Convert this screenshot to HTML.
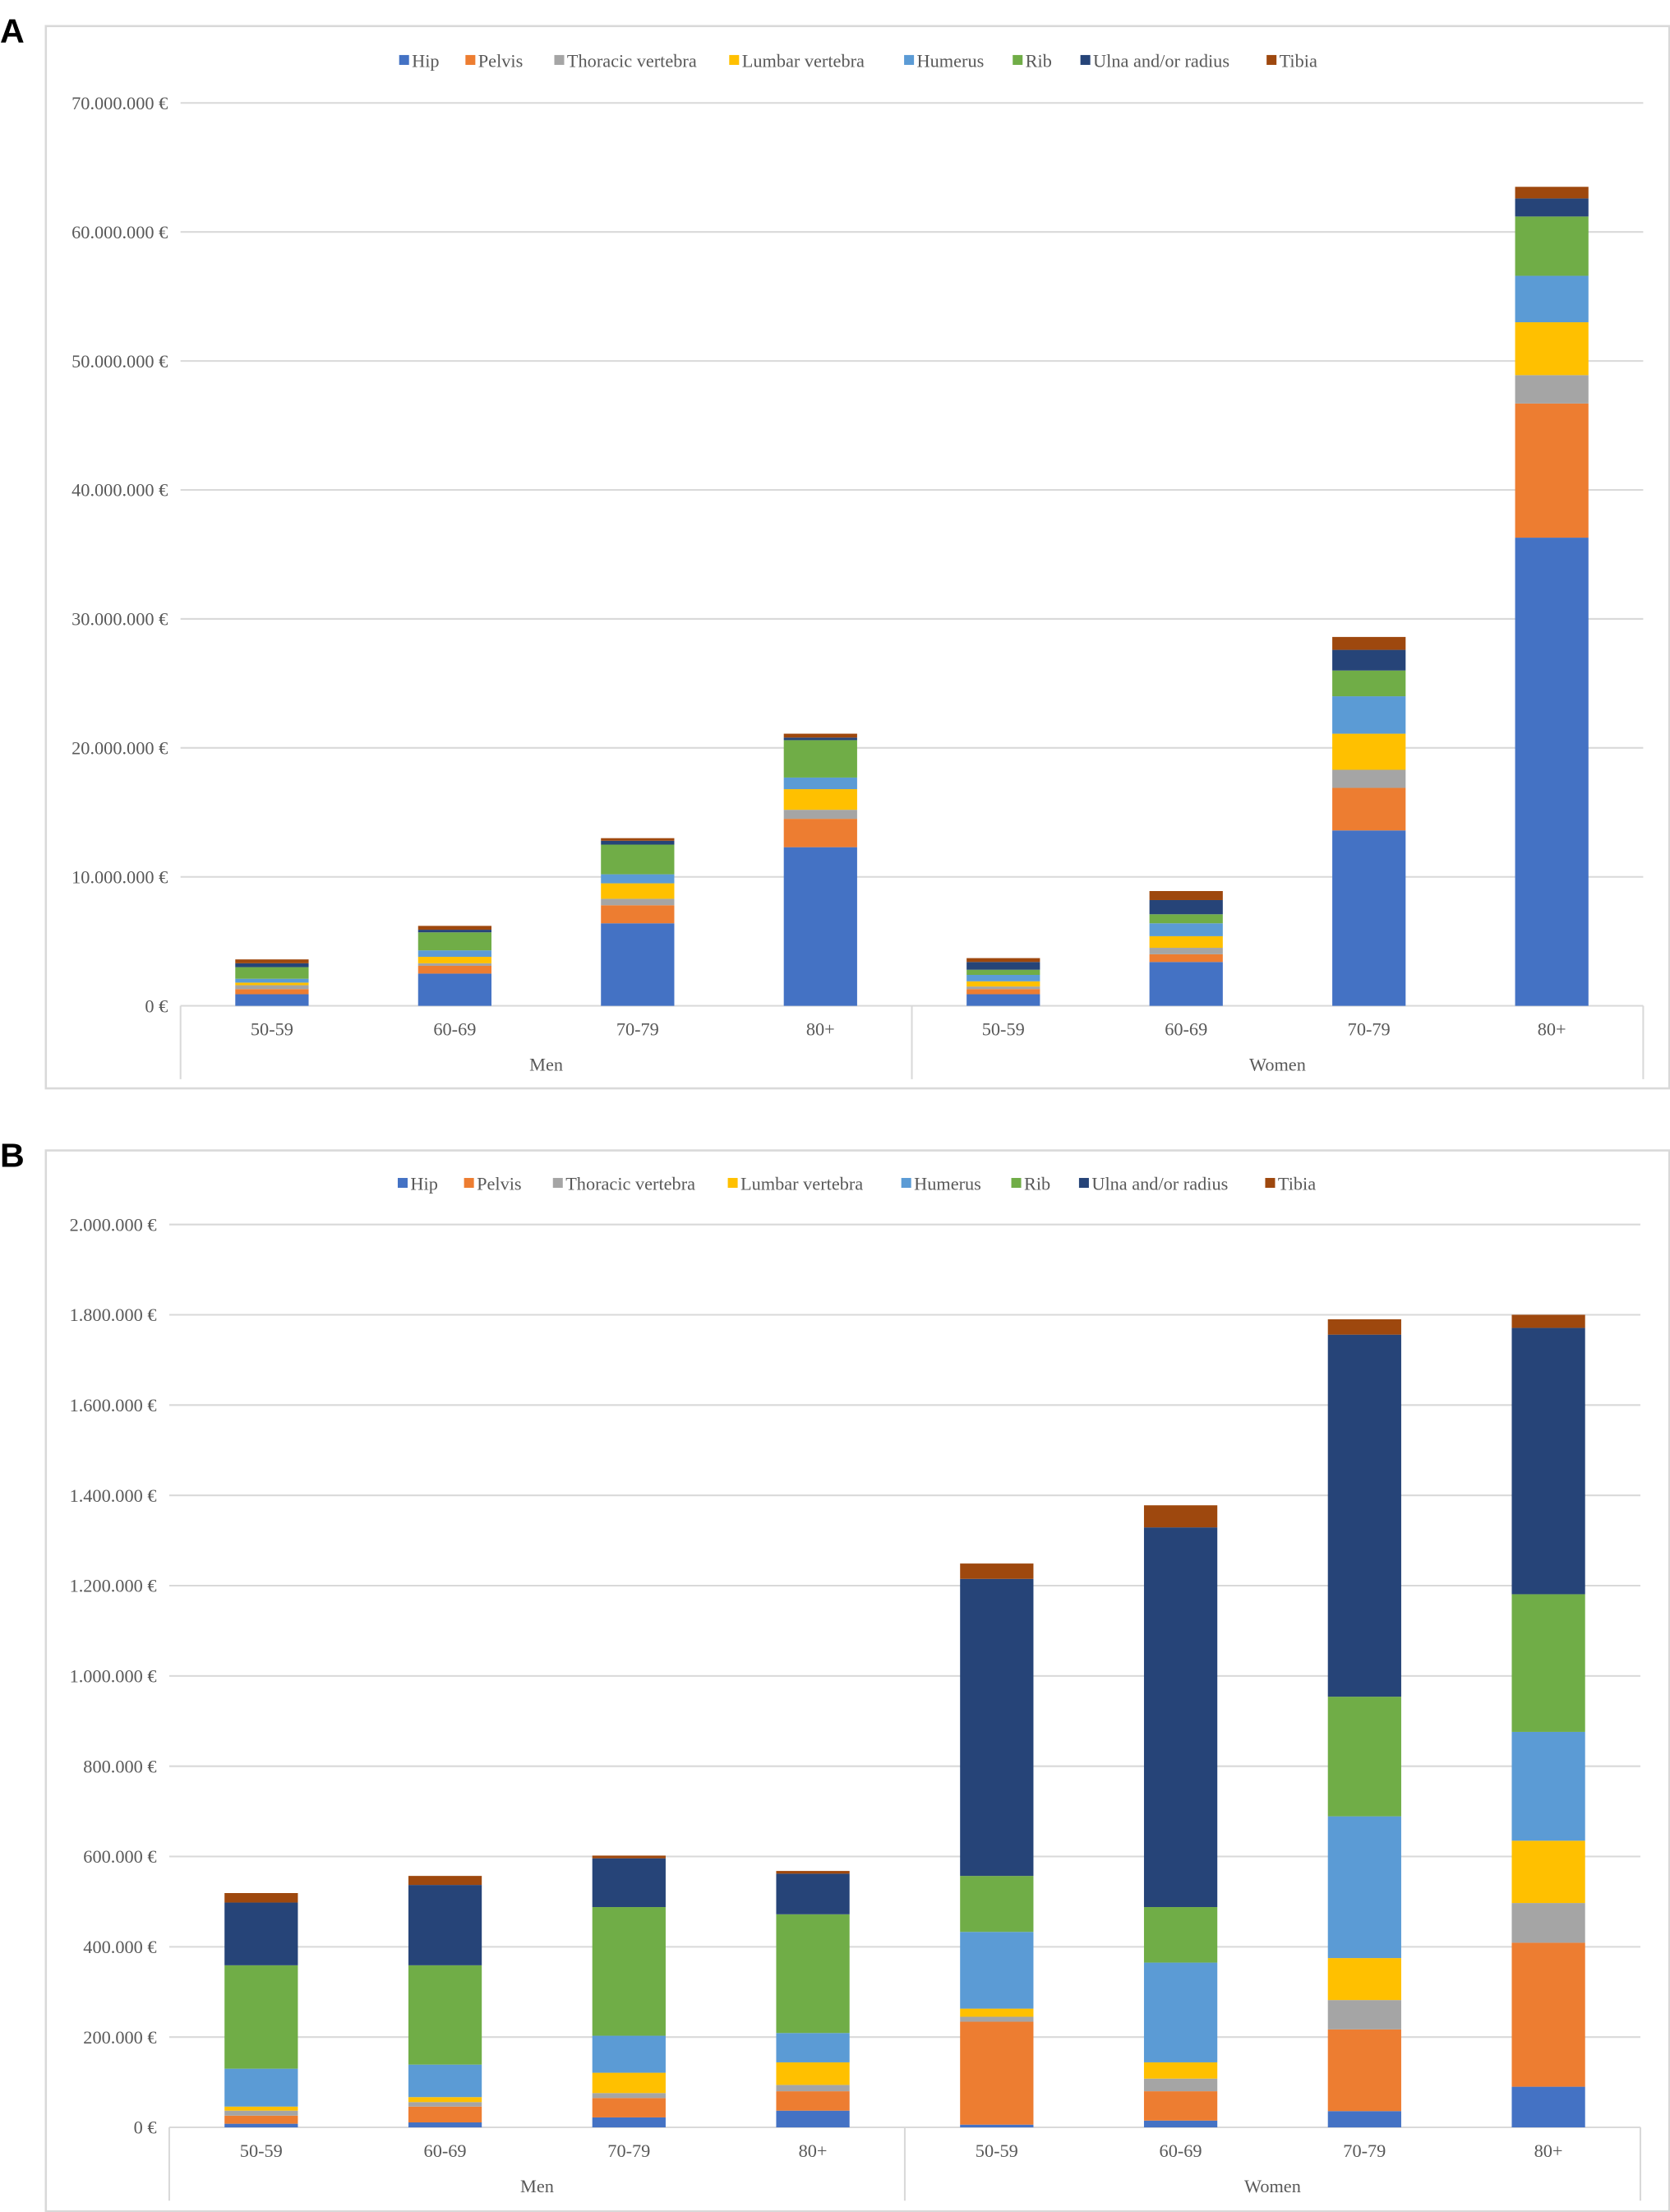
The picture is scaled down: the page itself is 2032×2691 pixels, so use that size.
<!DOCTYPE html>
<html><head><meta charset="utf-8"><style>
html,body{margin:0;padding:0;background:#fff}
svg{display:block}
text{font-family:"Liberation Serif",serif;fill:#595959}
</style></head><body>
<svg id="svg" width="2032" height="2691" viewBox="0 0 1184 1568" preserveAspectRatio="none" xmlns="http://www.w3.org/2000/svg"></svg>
<script>
const series = ["Hip","Pelvis","Thoracic vertebra","Lumbar vertebra","Humerus","Rib","Ulna and/or radius","Tibia"];
const colors = ["#4472C4","#ED7D31","#A5A5A5","#FFC000","#5B9BD5","#70AD47","#264478","#9E480E"];
const categories = ["50-59","60-69","70-79","80+","50-59","60-69","70-79","80+"];
const groups = ["Men","Women"];
// Panel A values in millions EUR, per category: [hip,pelvis,thoracic,lumbar,humerus,rib,ulna,tibia]
const valuesA = [
 [0.9,0.4,0.3,0.2,0.3,0.9,0.3,0.3],
 [2.5,0.6,0.2,0.5,0.5,1.4,0.2,0.3],
 [6.4,1.4,0.5,1.2,0.7,2.3,0.3,0.2],
 [12.3,2.2,0.7,1.6,0.9,2.9,0.2,0.3],
 [0.9,0.4,0.2,0.4,0.5,0.4,0.6,0.3],
 [3.4,0.6,0.5,0.9,1.0,0.7,1.1,0.7],
 [13.6,3.3,1.4,2.8,2.9,2.0,1.6,1.0],
 [36.3,10.4,2.2,4.1,3.6,4.6,1.4,0.9]
];
const ticksA = ["0 €","10.000.000 €","20.000.000 €","30.000.000 €","40.000.000 €","50.000.000 €","60.000.000 €","70.000.000 €"];
// Panel B values in thousands EUR
const valuesB = [
 [8,18,11,9,84,229,139,21],
 [11,35,10,11,72,220,178,20],
 [22,43,11,45,82,285,108,6],
 [37,43,14,50,65,263,90,6],
 [6,228,11,18,170,124,658,34],
 [15,65,28,36,221,123,841,49],
 [36,181,65,93,314,265,802,34],
 [90,319,88,138,241,305,590,29]
];
const ticksB = ["0 €","200.000 €","400.000 €","600.000 €","800.000 €","1.000.000 €","1.200.000 €","1.400.000 €","1.600.000 €","1.800.000 €","2.000.000 €"];

const NS="http://www.w3.org/2000/svg";
const svg=document.getElementById('svg');
function mk(tag,attrs,parent,txt){const e=document.createElementNS(NS,tag);for(const k in attrs)e.setAttribute(k,attrs[k]);if(txt!==undefined)e.textContent=txt;(parent||svg).appendChild(e);return e;}

function panel(cfg){
  const g=mk('g',{});
  
  
  const lab=mk('text',{x:0,y:cfg.frameTop+12,'font-size':24,'font-weight':'bold',style:'font-family:"Liberation Sans",sans-serif;fill:#000'},g,cfg.letter);
  
  
  const fr=mk('rect',{x:32.5,y:cfg.frameTop+0.5,width:1151,height:cfg.frameBottom-cfg.frameTop,fill:'none',stroke:'#d9d9d9','stroke-width':1.5},g);
  
  
  const y=v=>cfg.y0-(v/cfg.max)*(cfg.y0-cfg.yTop);
  const nT=cfg.ticks.length;
  for(let i=0;i<nT;i++){
    const v=cfg.max*i/(nT-1), yy=y(v);
    if(i>0){const l=mk('line',{x1:cfg.xL,x2:cfg.xR,y1:yy,y2:yy,stroke:'#d9d9d9','stroke-width':1.2},g);
      
      }
    const t=mk('text',{x:cfg.tickX,y:yy+4.5,'text-anchor':'end','font-size':13},g,cfg.ticks[i]);
    
    
  }
  const ax=mk('line',{x1:cfg.xL,x2:cfg.xR,y1:cfg.y0,y2:cfg.y0,stroke:'#d9d9d9','stroke-width':1.2},g);
  
  
  const xm=(cfg.xR-cfg.xL)/2+cfg.xL;
  [cfg.xL,xm,cfg.xR].forEach(x=>{const l=mk('line',{x1:x,x2:x,y1:cfg.y0,y2:cfg.y0+52,stroke:'#d9d9d9','stroke-width':1.2},g);
    
    });
  const step=(cfg.xR-cfg.xL)/categories.length, bw=52;
  cfg.values.forEach((row,i)=>{
    const cx=cfg.xL+step*(i+0.5);
    let acc=0;
    row.forEach((v,s)=>{
      const r=mk('rect',{x:cx-bw/2,y:y(acc+v),width:bw,height:y(acc)-y(acc+v),fill:colors[s]},g);
      
      
      acc+=v;
    });
    const t=mk('text',{x:cx,y:cfg.y0+21,'text-anchor':'middle','font-size':13},g,categories[i]);
    
    
  });
  groups.forEach((gn,i)=>{
    const t=mk('text',{x:cfg.xL+(cfg.xR-cfg.xL)*(i*2+1)/4,y:cfg.y0+46,'text-anchor':'middle','font-size':13},g,gn);
    
    
  });
  const lg=mk('g',{},g);
  
  
  series.forEach((s,i)=>{
    const e=mk('g',{},lg);
    
    
    mk('rect',{x:cfg.legX[i],y:cfg.legY-4,width:7,height:7,fill:colors[i]},e);
    mk('text',{x:cfg.legX[i]+9,y:cfg.legY+4.5,'font-size':13},e,s);
  });
}
panel({name:'chart-a',letter:'A',frameTop:18,frameBottom:771,y0:713,yTop:73,max:70,xL:128,xR:1165,tickX:119,ticks:ticksA,values:valuesA,legY:43,legX:[283,330,393,517,641,718,766,898]});
panel({name:'chart-b',letter:'B',frameTop:815,frameBottom:1567,y0:1508,yTop:868,max:2000,xL:120,xR:1163,tickX:111,ticks:ticksB,values:valuesB,legY:839,legX:[282,329,392,516,639,717,765,897]});
</script>
</body></html>
